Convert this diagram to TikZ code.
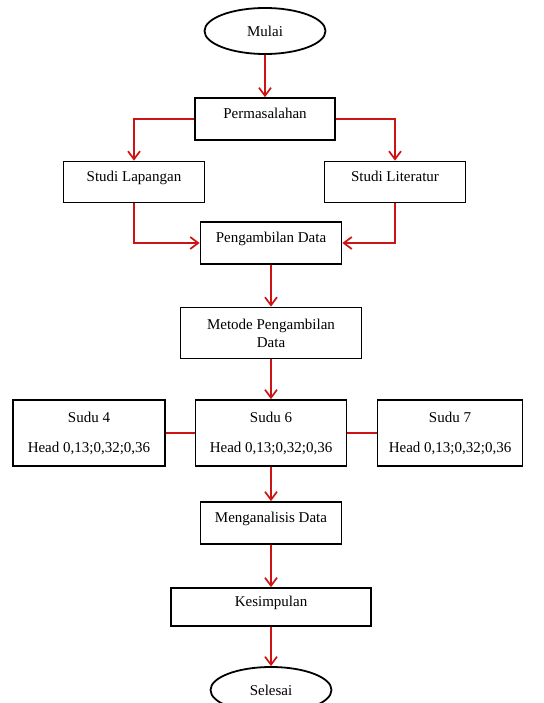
\documentclass[tikz,border=0pt]{standalone}
\usepackage{fontspec}
\setmainfont{Liberation Serif}
\usepackage{tikz}
\usetikzlibrary{shapes.geometric,arrows.meta}
\definecolor{flowred}{RGB}{205,20,20}

\begin{document}
\begin{tikzpicture}[x=1pt, y=-1pt]
	\tikzset{box/.style = {draw, line width=1.8pt, align=center, inner sep=2pt,
			font=\fontsize{15}{18}\selectfont},
		raised/.style = {box, text depth=11pt},
		terminal/.style = {box, ellipse, minimum width=121pt, minimum height=46pt, inner sep=0pt},
		arrow/.style = {draw=flowred, line width=1.7pt, -{Straight Barb[length=8pt, width=12pt]}},
		link/.style = {draw=flowred, line width=1.7pt}}
	\useasboundingbox (0,0) rectangle (543,703);
	\node[terminal] (mulai) at (265,31) {Mulai};
	\node[raised, minimum width=140pt, minimum height=42pt] (masalah) at (265,119) {Permasalahan};
	\node[raised, minimum width=141pt, minimum height=41pt] (lapangan) at (134,182) {Studi Lapangan};
	\node[raised, minimum width=141pt, minimum height=41pt] (literatur) at (395,182) {Studi Literatur};
	\node[raised, minimum width=141pt, minimum height=42pt] (ambil) at (271,243) {Pengambilan Data};
	\node[box, minimum width=181pt, minimum height=51pt] (metode) at (271,333) {Metode Pengambilan\\Data};
	\foreach \n/\x/\w in {4/89/152, 6/271/151, 7/450/145}{
		\node[box, minimum width=\w pt, minimum height=66pt] (sudu\n) at (\x,433) {Sudu \n\\[12pt]Head 0,13;0,32;0,36};
	}
	\node[raised, minimum width=141pt, minimum height=42pt] (analisis) at (271,523) {Menganalisis Data};
	\node[raised, minimum width=200pt, minimum height=38pt] (simpul) at (271,607) {Kesimpulan};
	\node[terminal] (selesai) at (271,690) {Selesai};

	\draw[arrow] (mulai) -- (masalah);
	\draw[arrow] (masalah.west) -| (lapangan.north);
	\draw[arrow] (masalah.east) -| (literatur.north);
	\draw[arrow] (lapangan.south) |- (ambil.west);
	\draw[arrow] (literatur.south) |- (ambil.east);
	\foreach \a/\b in {ambil/metode, metode/sudu6, sudu6/analisis, analisis/simpul, simpul/selesai}{
		\draw[arrow] (\a) -- (\b);
	}
	\draw[link] (sudu4) -- (sudu6);
	\draw[link] (sudu6) -- (sudu7);
\end{tikzpicture}
\end{document}
